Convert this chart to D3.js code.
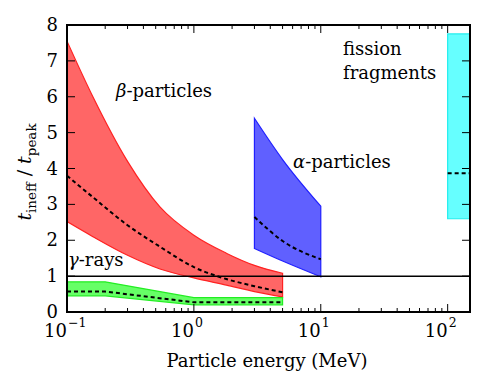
<!DOCTYPE html>
<html>
<head>
<meta charset="utf-8">
<script src="https://cdn.jsdelivr.net/npm/d3@7"></script>
<style>
  body { margin: 0; background: #fff; }
  svg text, svg tspan { font-family: "DejaVu Serif", "Liberation Serif", serif; fill: #000; }
</style>
</head>
<body>
<svg id="chart" width="485" height="387"></svg>
<script>
// band data: energy (MeV), upper / lower edge and dashed middle of t_ineff/t_peak
var betaE   = [0.1, 0.16, 0.3, 0.54, 1, 1.8, 3, 5];
var betaHi  = [7.55, 6.0, 4.2, 2.93, 2.14, 1.64, 1.3, 1.08];
var betaLo  = [2.52, 2.1, 1.58, 1.2, 0.95, 0.75, 0.57, 0.42];
var betaMid = [3.8, 3.2, 2.42, 1.82, 1.25, 0.92, 0.72, 0.55];

var alphaE   = [3, 5, 10];
var alphaHi  = [5.4, 4.25, 2.95];
var alphaLo  = [1.77, 1.42, 0.98];
var alphaMid = [2.65, 1.98, 1.47];

var gammaE   = [0.1, 0.2, 1, 5];
var gammaHi  = [0.84, 0.84, 0.4, 0.4];
var gammaLo  = [0.45, 0.45, 0.2, 0.2];
var gammaMid = [0.57, 0.57, 0.27, 0.27];

var fissionE   = [100, 150];
var fissionHi  = [7.75, 7.75];
var fissionLo  = [2.6, 2.6];
var fissionMid = [3.87, 3.87];

var yTicks = [0, 1, 2, 3, 4, 5, 6, 7, 8];
var xMajor = [0.1, 1, 10, 100];
var xExp = ["\u22121", "0", "1", "2"];

var svg = d3.select("#chart"),
    mLeft = 67, mRight = 470, mTop = 25, mBottom = 312;

var x = d3.scaleLog().domain([0.1, 150]).range([mLeft, mRight]);
var y = d3.scaleLinear().domain([0, 8]).range([mBottom, mTop]);

svg.append("clipPath").attr("id", "clip")
  .append("rect").attr("x", mLeft).attr("y", mTop)
  .attr("width", mRight - mLeft).attr("height", mBottom - mTop);

var plot = svg.append("g").attr("clip-path", "url(#clip)");

function zip(E, a, b) {
  return E.map(function(e, i) { return {e: e, a: a[i], b: b ? b[i] : null}; });
}

function band(E, hi, lo, mid, fill, stroke, curve) {
  var area = d3.area().curve(curve)
      .x(function(d) { return x(d.e); })
      .y0(function(d) { return y(d.b); })
      .y1(function(d) { return y(d.a); });
  plot.append("path")
      .attr("d", area(zip(E, hi, lo)))
      .attr("fill", fill)
      .attr("stroke", stroke)
      .attr("stroke-width", 1.2);
  var line = d3.line().curve(curve)
      .x(function(d) { return x(d.e); })
      .y(function(d) { return y(d.a); });
  plot.append("path")
      .attr("d", line(zip(E, mid)))
      .attr("fill", "none")
      .attr("stroke", "#000")
      .attr("stroke-width", 2)
      .attr("stroke-dasharray", "4,3");
}

band(betaE, betaHi, betaLo, betaMid, "#ff6666", "#ff2222", d3.curveMonotoneX);
band(alphaE, alphaHi, alphaLo, alphaMid, "#6060ff", "#2020ff", d3.curveMonotoneX);
band(gammaE, gammaHi, gammaLo, gammaMid, "#66ff66", "#22ee22", d3.curveLinear);
band(fissionE, fissionHi, fissionLo, fissionMid, "#66ffff", "#22eeee", d3.curveLinear);

// reference line at 1
plot.append("line")
    .attr("x1", mLeft).attr("x2", mRight)
    .attr("y1", y(1)).attr("y2", y(1))
    .attr("stroke", "#000").attr("stroke-width", 1.5);

// ticks (inside, on all four sides)
var xMinor = [];
[0.1, 1, 10, 100].forEach(function(d) {
  for (var k = 2; k <= 9; k++) if (d * k <= 150) xMinor.push(d * k);
});

var ticks = svg.append("g").attr("stroke", "#000").attr("stroke-width", 1);
xMajor.forEach(function(v) {
  ticks.append("line").attr("x1", x(v)).attr("x2", x(v)).attr("y1", mBottom).attr("y2", mBottom - 8);
  ticks.append("line").attr("x1", x(v)).attr("x2", x(v)).attr("y1", mTop).attr("y2", mTop + 8);
});
xMinor.forEach(function(v) {
  ticks.append("line").attr("x1", x(v)).attr("x2", x(v)).attr("y1", mBottom).attr("y2", mBottom - 4);
  ticks.append("line").attr("x1", x(v)).attr("x2", x(v)).attr("y1", mTop).attr("y2", mTop + 4);
});
yTicks.forEach(function(v) {
  ticks.append("line").attr("x1", mLeft).attr("x2", mLeft + 8).attr("y1", y(v)).attr("y2", y(v));
  ticks.append("line").attr("x1", mRight).attr("x2", mRight - 8).attr("y1", y(v)).attr("y2", y(v));
});

svg.append("rect")
    .attr("x", mLeft).attr("y", mTop)
    .attr("width", mRight - mLeft).attr("height", mBottom - mTop)
    .attr("fill", "none").attr("stroke", "#000").attr("stroke-width", 2);

// tick labels
svg.selectAll(".ylab").data(yTicks).enter().append("text")
    .attr("x", mLeft - 9).attr("y", function(d) { return y(d) + 6; })
    .attr("text-anchor", "end").attr("font-size", 18)
    .text(function(d) { return d; });

xMajor.forEach(function(v, i) {
  svg.append("text").attr("x", x(v)).attr("y", 337)
      .attr("text-anchor", "end").attr("font-size", 18).text("10");
  svg.append("text").attr("x", x(v) + 1).attr("y", 327)
      .attr("font-size", 12.5).text(xExp[i]);
});

svg.append("text").attr("x", 267).attr("y", 367)
    .attr("text-anchor", "middle").attr("font-size", 18)
    .text("Particle energy (MeV)");

var yl = svg.append("text")
    .attr("transform", "translate(31," + 172 + ") rotate(-90)")
    .attr("text-anchor", "middle").attr("font-size", 19);
yl.append("tspan").attr("font-style", "italic").text("t");
yl.append("tspan").attr("dy", 5).attr("font-size", 13.5).text("ineff");
yl.append("tspan").attr("dy", -5).text(" / ");
yl.append("tspan").attr("font-style", "italic").text("t");
yl.append("tspan").attr("dy", 5).attr("font-size", 13.5).text("peak");

// annotations
function label(px, py, greek, rest) {
  var t = svg.append("text").attr("x", px).attr("y", py).attr("font-size", 18);
  if (greek) t.append("tspan").attr("font-style", "italic").text(greek);
  t.append("tspan").text(rest);
}
label(116, 97, "\u03b2", "-particles");
label(293, 168, "\u03b1", "-particles");
label(68, 266, "\u03b3", "-rays");
label(343, 55, null, "fission");
label(343, 79, null, "fragments");
</script>
</body>
</html>
